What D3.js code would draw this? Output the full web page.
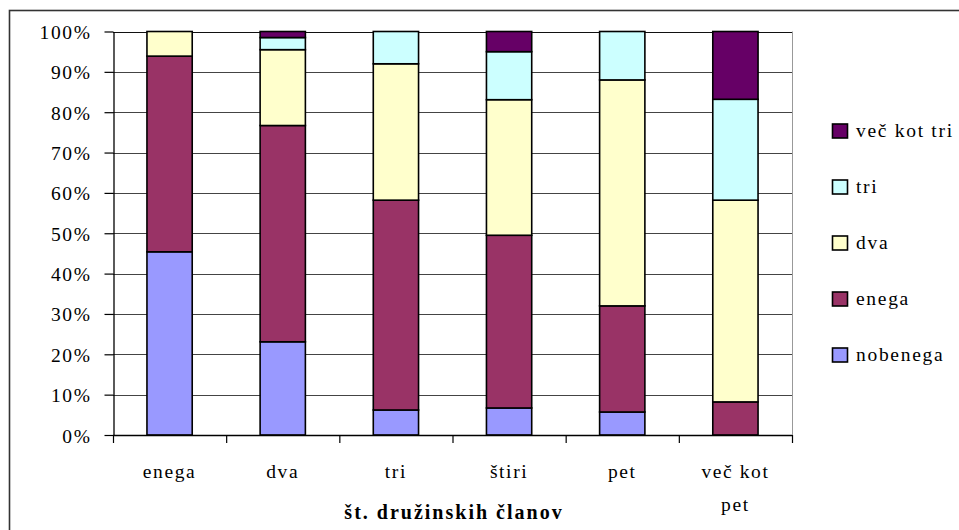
<!DOCTYPE html>
<html><head><meta charset="utf-8">
<script src="https://cdn.jsdelivr.net/npm/d3@7"></script>
<style>body{margin:0;background:#fff;}</style></head>
<body><svg id="c" width="959" height="530"></svg>
<script>
const categories = ["enega","dva","tri","štiri","pet","več kot pet"];
const seriesNames = ["nobenega","enega","dva","tri","več kot tri"];
const nobenega = [45.4, 23.1, 6.2, 6.7, 5.7, 0];
const enega    = [48.5, 53.6, 52.0, 42.8, 26.3, 8.2];
const dva      = [6.1, 18.8, 33.8, 33.6, 56.0, 50.0];
const tri      = [0, 3.0, 8.0, 11.9, 12.0, 25.0];
const vecKotTri= [0, 1.5, 0, 5.0, 0, 16.8];
const yTicks = [0,10,20,30,40,50,60,70,80,90,100];
const colors = ["#9999FF","#993366","#FFFFCC","#CCFFFF","#660066"];
const xTitle = "št. družinskih članov";
const FONT = '"Liberation Serif"';

const seriesVals = [nobenega, enega, dva, tri, vecKotTri];
const table = categories.map((c,i)=>{
  const o={cat:c};
  seriesNames.forEach((s,j)=>o[s]=seriesVals[j][i]);
  return o;
});
const stack = d3.stack().keys(seriesNames).offset(d3.stackOffsetExpand)(table);

const svg = d3.select("#c");
const L=113, R=792, T=31.5, B=435;
const x = d3.scaleBand().domain(categories).range([L,R]).paddingInner(0.6).paddingOuter(0.3);
const y = d3.scaleLinear().domain([0,1]).range([B,T]);
const color = d3.scaleOrdinal().domain(seriesNames).range(colors);

// outer border
svg.append("rect").attr("x",9.5).attr("y",10.5).attr("width",1000).attr("height",600)
  .attr("fill","none").attr("stroke","#333").attr("stroke-width",1.6);

// gridlines
svg.append("g").selectAll("line").data(yTicks).join("line")
  .attr("x1",L).attr("x2",R)
  .attr("y1",d=>Math.round(y(d/100))+0.5).attr("y2",d=>Math.round(y(d/100))+0.5)
  .attr("stroke",d=>d===100?"#111":"#444").attr("stroke-width",1.2);
// right plot border
svg.append("line").attr("x1",R+0.5).attr("x2",R+0.5).attr("y1",T).attr("y2",B)
  .attr("stroke","#999").attr("stroke-width",1);

// y axis
const yAxis = d3.axisLeft(y).tickValues(yTicks.map(d=>d/100)).tickFormat(d=>Math.round(d*100)+"%").tickSize(9).tickSizeOuter(0);
const gy = svg.append("g").attr("transform",`translate(${L+0.5},0)`).call(yAxis);
gy.select(".domain").attr("stroke","#000").attr("stroke-width",1.3);
gy.selectAll(".tick line").attr("stroke","#000").attr("stroke-width",1.2);
gy.selectAll(".tick text").style("font-family",FONT).style("font-size","19.5px").style("letter-spacing","1.6px")
  .attr("x",-22).attr("dy","0.36em").attr("fill","#000");

// bars
svg.append("g").selectAll("g").data(stack).join("g").attr("fill",d=>color(d.key))
  .selectAll("rect").data(d=>d.filter(p=>p[1]-p[0]>0)).join("rect")
  .attr("x",d=>x(d.data.cat)).attr("width",x.bandwidth())
  .attr("y",d=>y(d[1])).attr("height",d=>y(d[0])-y(d[1]))
  .attr("stroke","#000").attr("stroke-width",1.6);

// x axis line and ticks at category boundaries
const step = x.step();
const bounds = d3.range(categories.length+1).map(i=>L + i*step);
svg.append("line").attr("x1",L).attr("x2",R).attr("y1",B+0.5).attr("y2",B+0.5)
  .attr("stroke","#000").attr("stroke-width",1.3);
svg.append("g").selectAll("line").data(bounds).join("line")
  .attr("x1",d=>d+0.5).attr("x2",d=>d+0.5).attr("y1",B).attr("y2",B+8)
  .attr("stroke","#000").attr("stroke-width",1.2);

// category labels (wrapped)
const wrapLines = {"več kot pet":["več kot","pet"]};
const catG = svg.append("g").selectAll("text").data(categories).join("text")
  .attr("x",d=>x(d)+x.bandwidth()/2).attr("y",478)
  .attr("text-anchor","middle").style("font-family",FONT).style("font-size","19.5px").style("letter-spacing","1.6px");
catG.each(function(d){
  const lines = wrapLines[d]||[d];
  const t=d3.select(this);
  lines.forEach((ln,i)=>t.append("tspan").attr("x",x(d)+x.bandwidth()/2).attr("dy",i?33:0).text(ln));
});

// axis title
svg.append("text").attr("x",454).attr("y",519).attr("text-anchor","middle")
  .style("font-family",FONT).style("font-size","20px").style("font-weight","bold").style("letter-spacing","2px").text(xTitle);

// legend
const legOrder = seriesNames.slice().reverse();
const lg = svg.append("g").selectAll("g").data(legOrder).join("g")
  .attr("transform",(d,i)=>`translate(832,${131+i*56})`);
lg.append("rect").attr("x",0.5).attr("y",-7).attr("width",15).attr("height",14)
  .attr("fill",d=>color(d)).attr("stroke","#000").attr("stroke-width",1.6);
lg.append("text").attr("x",24).attr("y",0).attr("dy","0.3em")
  .style("font-family",FONT).style("font-size","19.5px").style("letter-spacing","1.7px").text(d=>d);
</script></body></html>
